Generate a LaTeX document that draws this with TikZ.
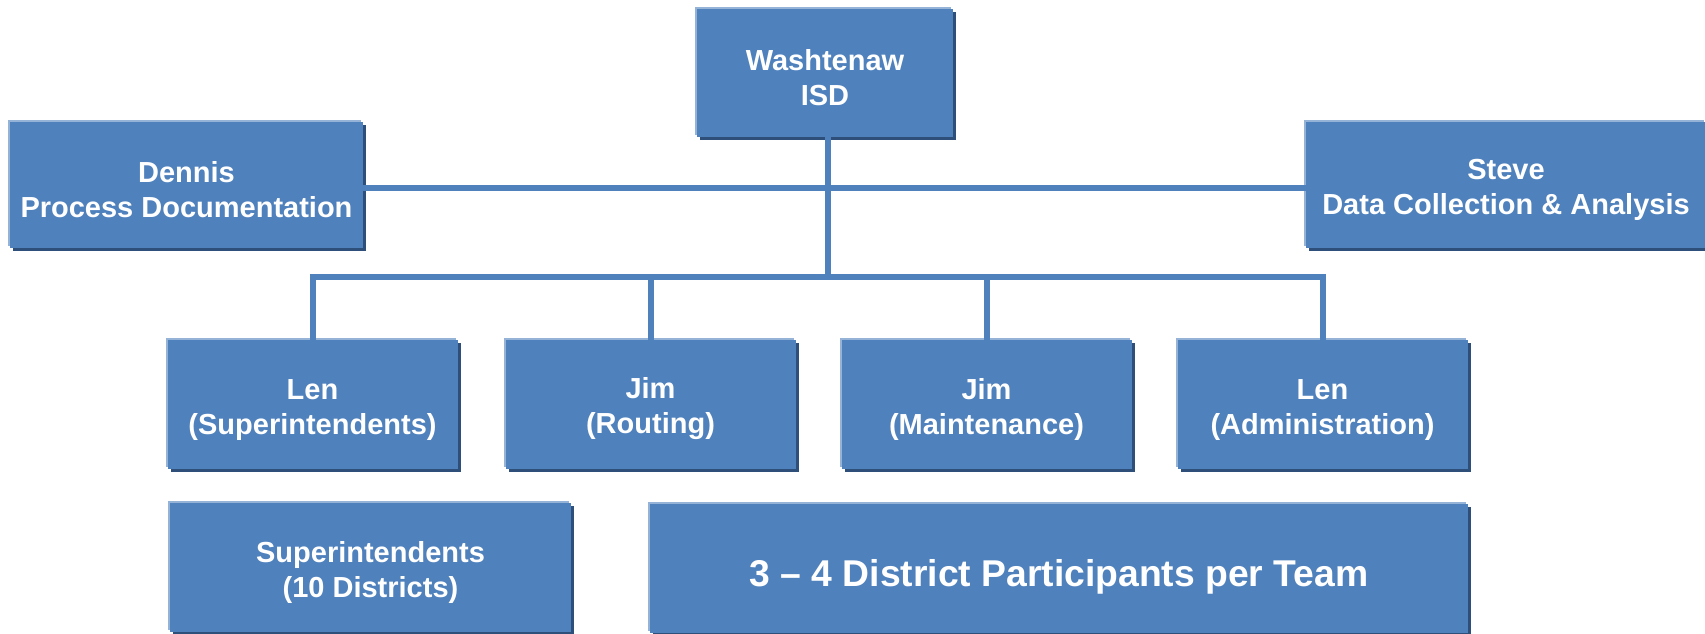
\documentclass[tikz,border=0pt]{standalone}
\usepackage{fontspec}
\setmainfont{Liberation Sans}
\definecolor{boxblue}{HTML}{4F81BD}
\definecolor{boxlight}{HTML}{95B3D7}
\definecolor{boxdark}{HTML}{2F4F7B}
\newcommand\topgap[1][30pt]{\rule{0pt}{#1}}
\begin{document}
\begin{tikzpicture}[x=1pt, y=1pt, line join=miter, font=\bfseries\fontsize{29}{35}\selectfont]
	\tikzset{
		orgbox/.style={rectangle, fill=boxblue, text=white, align=center, inner sep=0pt,
			preaction={fill=boxdark, transform canvas={xshift=3pt, yshift=-3pt}},
			preaction={fill=boxlight, transform canvas={xshift=-2pt, yshift=2pt}}},
		link/.style={draw=boxblue, line width=6pt}
	}
	\def\cw{290pt}
	\def\ch{129pt}
	\useasboundingbox (0,0) rectangle (1705,-633);
	\clip (0,0) rectangle (1705,-633);
	% top level
	\node[orgbox, minimum width=256pt, minimum height=128pt] (wash) at (825,-73) {\topgap Washtenaw\\ISD};
	\node[orgbox, minimum width=353pt, minimum height=126pt] (dennis) at (186.5,-185) {\topgap Dennis\\Process Documentation};
	\node[orgbox, minimum width=400pt, minimum height=126pt] (steve) at (1506,-185) {\topgap Steve\\Data Collection \& Analysis};
	% teams
	\node[orgbox, minimum width=\cw, minimum height=\ch] (lensup) at (312.5,-404.5) {\topgap Len\\(Superintendents)};
	\node[orgbox, minimum width=\cw, minimum height=\ch] (jimrout) at (650.5,-404.5) {\topgap Jim\\(Routing)};
	\node[orgbox, minimum width=\cw, minimum height=\ch] (jimmaint) at (986.5,-404.5) {\topgap Jim\\(Maintenance)};
	\node[orgbox, minimum width=\cw, minimum height=\ch] (lenadmin) at (1322.5,-404.5) {\topgap Len\\(Administration)};
	% participants
	\node[orgbox, minimum width=401pt, minimum height=\ch] (supers) at (370.5,-567.5) {\topgap Superintendents\\(10 Districts)};
	\node[orgbox, minimum width=818pt, minimum height=\ch, font=\bfseries\fontsize{37.3}{45}\selectfont] (particip) at (1059,-568.5) {\topgap[44pt]3 -- 4 District Participants per Team};
	% connectors
	\coordinate (bus) at (828,-277);
	\draw[link] ([yshift=-3pt]dennis.east) -- ([yshift=-3pt]steve.west);
	\draw[link] (wash.south -| bus) -- (bus);
	\draw[link] (lensup.north) |- (bus) -| (lenadmin.north);
	\draw[link] (jimrout.north) -- (jimrout.north |- bus);
	\draw[link] (jimmaint.north) -- (jimmaint.north |- bus);
\end{tikzpicture}
\end{document}
